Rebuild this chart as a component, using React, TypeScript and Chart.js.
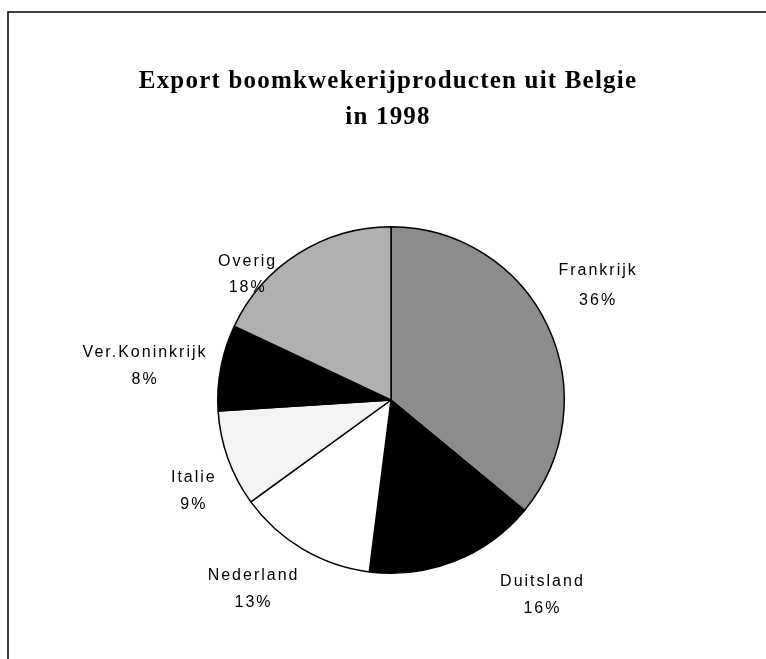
import React, { useEffect, useRef } from "react";
import { Chart, registerables } from "chart.js";

Chart.register(...registerables);

const categories = ["Frankrijk", "Duitsland", "Nederland", "Italie", "Ver.Koninkrijk", "Overig"];
const shares = [36, 16, 13, 9, 8, 18];
const titleLines = ["Export boomkwekerijproducten uit Belgie", "in 1998"];

const sliceColors = ["#8c8c8c", "#000000", "#ffffff", "#f3f3f3", "#000000", "#b0b0b0"];
// radial distance of each label (multiples of the pie radius) and angle nudge (deg)
const labelRadius = [1.361, 1.42, 1.351, 1.259, 1.439, 1.104];
const labelAngleNudge = [-3.85, -16.1, 5.66, -4.9, -2.9, -16.6];
const labelHalfGap = [15, 13.5, 13.5, 13.5, 13.5, 13];

const decorPlugin = {
  id: "decor",
  beforeDraw(chart: any) {
    const ctx = chart.ctx;
    ctx.save();
    ctx.fillStyle = "#ffffff";
    ctx.fillRect(0, 0, chart.width, chart.height);
    ctx.strokeStyle = "#000";
    ctx.lineWidth = 1.5;
    ctx.beginPath();
    ctx.moveTo(8, chart.height);
    ctx.lineTo(8, 12);
    ctx.lineTo(chart.width, 12);
    ctx.stroke();
    ctx.fillStyle = "#000";
    ctx.textAlign = "center";
    ctx.textBaseline = "middle";
    ctx.font = "bold 25px 'Liberation Serif', 'Times New Roman', serif";
    (ctx as any).letterSpacing = "1.2px";
    const cx = 388;
    titleLines.forEach((t, i) => {
      ctx.fillText(t, cx, 82 + i * 36);
    });
    ctx.restore();
  },
  afterDatasetsDraw(chart: any) {
    const ctx = chart.ctx;
    const meta = chart.getDatasetMeta(0);
    const total = shares.reduce((a, b) => a + b, 0);
    ctx.save();
    ctx.fillStyle = "#000";
    ctx.textAlign = "center";
    ctx.textBaseline = "middle";
    ctx.font = "16px 'Liberation Sans', Arial, sans-serif";
    (ctx as any).letterSpacing = "2px";
    meta.data.forEach((arc: any, i: number) => {
      const p = arc.getProps(["x", "y", "startAngle", "endAngle", "outerRadius"], true);
      const mid = (p.startAngle + p.endAngle) / 2 + (labelAngleNudge[i] * Math.PI) / 180;
      const r = p.outerRadius * labelRadius[i];
      const lx = p.x + Math.cos(mid) * r + 1;
      const ly = p.y + Math.sin(mid) * r;
      const pct = Math.round((shares[i] / total) * 100) + "%";
      ctx.fillText(categories[i], lx, ly - labelHalfGap[i]);
      ctx.fillText(pct, lx, ly + labelHalfGap[i]);
    });
    ctx.restore();
  },
};

export default function App() {
  const ref = useRef<HTMLCanvasElement | null>(null);
  useEffect(() => {
    if (!ref.current) return;
    const chart = new Chart(ref.current, {
      type: "pie",
      data: {
        labels: categories,
        datasets: [
          {
            data: shares,
            backgroundColor: sliceColors,
            borderColor: "#000",
            borderWidth: 1.5,
          },
        ],
      },
      options: {
        animation: false,
        responsive: false,
        maintainAspectRatio: false,
        layout: { padding: { top: 226, bottom: 85, left: 91, right: 75 } },
        plugins: {
          legend: { display: false },
          title: { display: false },
          tooltip: { enabled: false },
        },
      },
      plugins: [decorPlugin],
    });
    return () => chart.destroy();
  }, []);
  return (
    <div style={{ position: "fixed", left: 0, top: 0, width: 766, height: 659, background: "#fff" }}>
      <canvas ref={ref} width={766} height={659} style={{ width: 766, height: 659, display: "block" }} />
    </div>
  );
}
